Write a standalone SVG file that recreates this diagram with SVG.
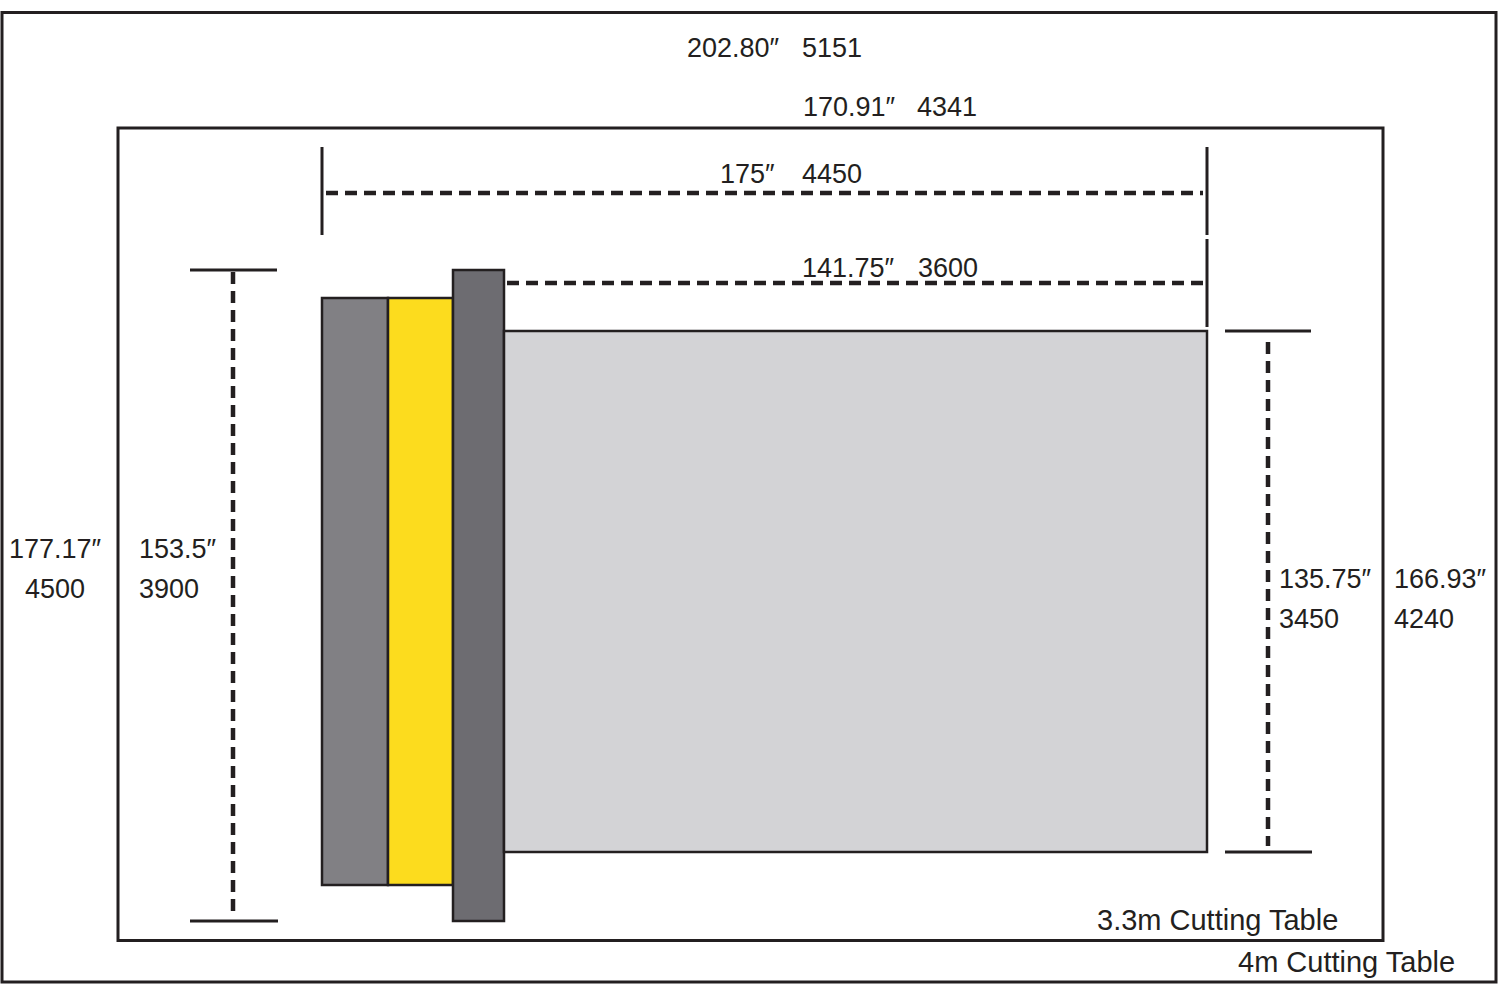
<svg xmlns="http://www.w3.org/2000/svg" width="1500" height="984" viewBox="0 0 1500 984">
<style>
.frame{fill:none;stroke:#231f20;stroke-width:3}
.box{stroke:#231f20;stroke-width:2.5}
.solid{stroke:#231f20;stroke-width:3;fill:none}
.dash{stroke:#231f20;stroke-width:4.5;fill:none;stroke-dasharray:12 7}
text{font-family:"Liberation Sans",Arial,sans-serif;font-size:27px;fill:#231f20}
.big{font-size:29px}
</style>
<rect width="1500" height="984" fill="#ffffff"/>
<g id="table-4m"><rect class="frame" x="2" y="12.5" width="1494" height="969.5"/></g>
<g id="table-3-3m"><rect class="frame" x="118" y="128" width="1265" height="812.5"/></g>
<g id="panel-gray"><rect class="box" x="322" y="298" width="66" height="587" fill="#818084"/></g>
<g id="panel-yellow"><rect class="box" x="388" y="298" width="65" height="587" fill="#fcdc1e"/></g>
<g id="panel-dark"><rect class="box" x="453" y="270" width="51" height="651" fill="#6d6c71"/></g>
<g id="panel-light"><rect class="box" x="504" y="331" width="703" height="521" fill="#d3d3d6"/></g>
<g id="connectors">
<line class="solid" x1="322" y1="147" x2="322" y2="235"/>
<line class="solid" x1="1207" y1="147" x2="1207" y2="235"/>
<line class="solid" x1="1207" y1="239" x2="1207" y2="327"/>
<line class="dash" x1="326" y1="193" x2="1203" y2="193"/>
<line class="dash" x1="507" y1="283" x2="1203" y2="283"/>
<line class="solid" x1="190" y1="270" x2="277" y2="270"/>
<line class="solid" x1="190" y1="921" x2="278" y2="921"/>
<line class="dash" x1="233" y1="272" x2="233" y2="915"/>
<line class="solid" x1="1225" y1="331" x2="1311" y2="331"/>
<line class="solid" x1="1225" y1="852" x2="1312" y2="852"/>
<line class="dash" x1="1268" y1="342" x2="1268" y2="846"/>
</g>
<g id="labels">
<text x="687" y="57">202.80″</text><text x="802" y="57">5151</text>
<text x="803" y="116">170.91″</text><text x="917" y="116">4341</text>
<text x="720" y="183">175″</text><text x="802" y="183">4450</text>
<text x="802" y="277">141.75″</text><text x="918" y="277">3600</text>
<text x="9" y="558">177.17″</text><text x="25" y="598">4500</text>
<text x="139" y="558">153.5″</text><text x="139" y="598">3900</text>
<text x="1279" y="588">135.75″</text><text x="1279" y="628">3450</text>
<text x="1394" y="588">166.93″</text><text x="1394" y="628">4240</text>
<text class="big" x="1097" y="930">3.3m Cutting Table</text>
<text class="big" x="1238" y="972">4m Cutting Table</text>
</g>
</svg>
